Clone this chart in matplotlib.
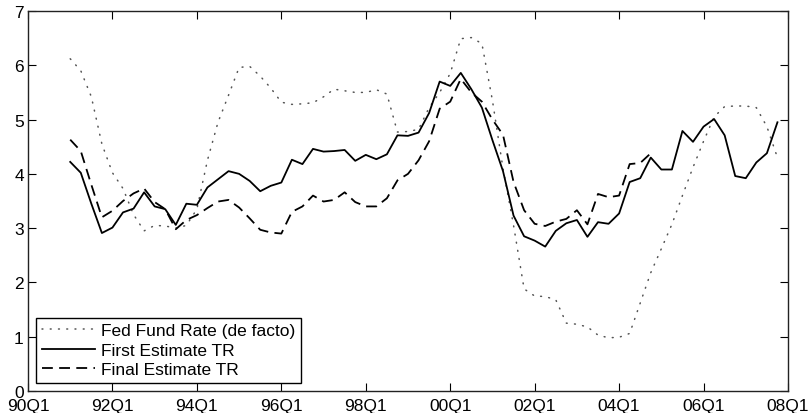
import matplotlib
matplotlib.use("Agg")
import matplotlib.pyplot as plt
import numpy as np

plt.rcParams['font.family'] = ['Liberation Sans', 'DejaVu Sans']

# quarters from 91Q1 to 07Q4
start_year, start_q = 1991, 1
n_fed = 68
quarters = [f"{(start_year + i // 4) % 100:02d}Q{i % 4 + 1}" for i in range(n_fed)]

tick_labels = ["90Q1", "92Q1", "94Q1", "96Q1", "98Q1", "00Q1", "02Q1", "04Q1", "06Q1", "08Q1"]

fed_funds = [6.12, 5.90, 5.42, 4.55, 4.02, 3.73, 3.25, 2.95, 3.05, 3.04, 3.00, 3.05,
             3.35, 4.25, 4.95, 5.45, 5.96, 5.98, 5.80, 5.58, 5.32, 5.28, 5.29, 5.31,
             5.42, 5.56, 5.53, 5.50, 5.50, 5.55, 5.47, 4.77, 4.78, 4.82, 5.22, 5.50,
             5.85, 6.49, 6.51, 6.40, 5.35, 4.10, 3.05, 1.88, 1.75, 1.74, 1.68, 1.25,
             1.23, 1.18, 1.03, 0.98, 0.99, 1.06, 1.62, 2.18, 2.62, 3.07, 3.60, 4.12,
             4.60, 5.05, 5.24, 5.25, 5.25, 5.22, 4.87, 4.30]

first_tr = [4.22, 4.02, 3.45, 2.91, 3.01, 3.29, 3.36, 3.66, 3.40, 3.35, 3.06, 3.45,
            3.43, 3.75, 3.90, 4.05, 4.00, 3.87, 3.68, 3.78, 3.84, 4.26, 4.18, 4.46,
            4.41, 4.42, 4.44, 4.24, 4.35, 4.27, 4.36, 4.71, 4.70, 4.76, 5.12, 5.70,
            5.62, 5.86, 5.56, 5.22, 4.62, 4.05, 3.23, 2.85, 2.77, 2.66, 2.95, 3.09,
            3.15, 2.84, 3.11, 3.08, 3.27, 3.85, 3.92, 4.30, 4.08, 4.08, 4.79, 4.59,
            4.87, 5.01, 4.71, 3.96, 3.92, 4.21, 4.38, 4.95]

final_tr = [4.63, 4.42, 3.80, 3.20, 3.32, 3.50, 3.64, 3.73, 3.48, 3.35, 2.98, 3.15,
            3.24, 3.37, 3.49, 3.52, 3.38, 3.18, 2.97, 2.92, 2.90, 3.30, 3.40, 3.60,
            3.49, 3.52, 3.66, 3.48, 3.40, 3.40, 3.55, 3.88, 4.00, 4.25, 4.60, 5.20,
            5.33, 5.75, 5.50, 5.33, 5.00, 4.72, 3.85, 3.33, 3.08, 3.04, 3.12, 3.17,
            3.33, 3.07, 3.63, 3.57, 3.60, 4.18, 4.20, 4.38]

labels = ["Fed Fund Rate (de facto)", "First Estimate TR", "Final Estimate TR"]


def qpos(label):
    yy = int(label[:2])
    year = 1900 + yy if yy >= 50 else 2000 + yy
    return (year - 1990) * 4 + int(label[3]) - 1


x_all = np.array([qpos(q) for q in quarters])

FS = 12.5

fig = plt.figure(figsize=(8.09, 4.14), dpi=100)
ax = fig.add_axes([28 / 809, 1 - 392 / 414, 760 / 809, 380 / 414])

ax.plot(x_all, fed_funds, linestyle=(0, (0.6, 4.8)), color='#555555', lw=1.1,
        dash_capstyle='round', label=labels[0])
ax.plot(x_all, first_tr, '-', color='black', lw=1.3, label=labels[1])
ax.plot(x_all[:len(final_tr)], final_tr, color='black', lw=1.3,
        linestyle=(0, (6, 3.5)), label=labels[2])

ax.set_xlim(0, 72)
ax.set_ylim(0, 7)
ax.set_xticks([qpos(t) for t in tick_labels])
ax.set_xticklabels(tick_labels)
ax.set_yticks(range(0, 8))
ax.tick_params(direction='in', length=6, width=0.8, top=True, right=True,
               labelsize=FS, pad=3, colors='black')
ax.tick_params(axis='x', pad=5)
for s in ax.spines.values():
    s.set_linewidth(1.0)
    s.set_color('#222222')

leg = ax.legend(loc='lower left', bbox_to_anchor=(0.011, 0.022), borderaxespad=0,
                fancybox=False, edgecolor='black', framealpha=1, fontsize=FS,
                handlelength=3.05, handletextpad=0.4, labelspacing=0.25,
                borderpad=0.3)
leg.get_frame().set_linewidth(1.0)

fig.savefig("out.png", dpi=100)
